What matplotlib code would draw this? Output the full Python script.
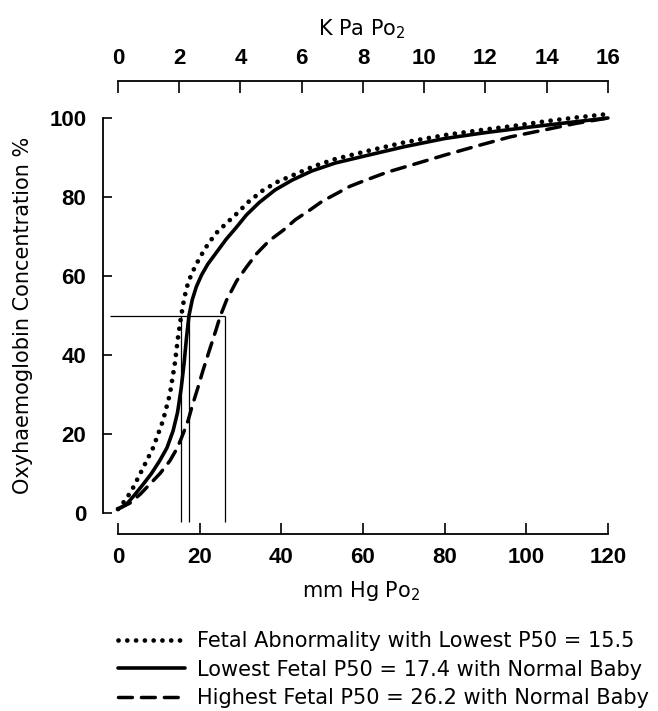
import matplotlib
matplotlib.use("Agg")
import matplotlib.pyplot as plt
from matplotlib.lines import Line2D

plt.rcParams["font.family"] = "DejaVu Sans"
plt.rcParams["mathtext.default"] = "regular"

# Oxyhaemoglobin dissociation curves (mm Hg Po2 vs % saturation)
po2_abnormal = [0, 2, 3.7, 6.2, 8.6, 11, 12.7, 13.9, 14.7, 15.5, 16.2, 16.9, 18, 20, 22,
                24, 26.5, 28.9, 32, 35.4, 39, 43.5, 48, 53.2, 60.5, 70, 80.8, 90, 97,
                105, 112, 120]
sat_abnormal = [1, 3.5, 6.4, 11.5, 16.5, 23.3, 30, 37.6, 44.4, 50, 54.2, 57.3, 60.5, 64.6,
                68, 70.8, 73.3, 75.6, 78.8, 81.6, 83.8, 85.8, 87.8, 89.6, 91.5, 93.8,
                95.8, 97.1, 98, 99.2, 100.1, 101]

po2_lowest = [0, 2.1, 4, 6.2, 8.2, 10.2, 12, 13.5, 14.6, 15.5, 16.2, 16.8, 17.4, 18.2,
              19.2, 20.5, 22, 24, 26.5, 28.9, 31.5, 34.6, 38.5, 42.7, 47.5, 53.2, 60.5,
              70, 80, 90, 100, 110, 120]
sat_lowest = [1, 2.2, 4.5, 7.3, 10, 13.2, 16.5, 20.8, 25.5, 31.7, 38, 44.5, 50, 54,
              57.3, 60.3, 63, 65.8, 69.3, 72.2, 75.5, 78.6, 81.8, 84.3, 86.6, 88.6, 90.4,
              92.7, 94.8, 96.3, 97.6, 98.8, 100]

po2_highest = [0, 2.9, 5.5, 7.8, 10.3, 12.7, 14.5, 15.9, 17.2, 18.3, 19.6, 20.8, 22.4,
               24, 25, 26.6, 29.1, 31.5, 34, 37, 40.5, 43.5, 47, 50, 53.6, 56.8, 60.5,
               66, 73.2, 80, 88.9, 96, 105, 112, 120]
sat_highest = [1, 2.5, 4.8, 7.3, 10, 13.2, 16.4, 19.9, 23.5, 27.5, 31.8, 36, 41.2,
               46.3, 49.7, 53.9, 58.8, 62.3, 65.7, 68.9, 71.6, 74.3, 76.7, 78.9, 80.9,
               82.7, 84.2, 86.3, 88.5, 90.6, 93.2, 95.2, 97.1, 98.6, 100]

p50_values = [15.5, 17.4, 26.2]
labels = ["Fetal Abnormality with Lowest P50 = 15.5",
          "Lowest Fetal P50 = 17.4 with Normal Baby",
          "Highest Fetal P50 = 26.2 with Normal Baby"]

mmhg_ticks = [0, 20, 40, 60, 80, 100, 120]
kpa_ticks = [0, 2, 4, 6, 8, 10, 12, 14, 16]
sat_ticks = [0, 20, 40, 60, 80, 100]
MMHG_PER_KPA = 7.5

fig = plt.figure(figsize=(6.58, 7.11), dpi=100)
ax = fig.add_axes([0.1565, 0.2618, 0.786, 0.5889])

dot_style = dict(color="black", lw=3.4, linestyle=(0, (0.01, 1.85)), dash_capstyle="round")
solid_style = dict(color="black", lw=2.6, linestyle="-", solid_capstyle="round")
dash_style = dict(color="black", lw=2.5, linestyle=(0, (4, 2.6)), dash_capstyle="round")

ax.plot(po2_abnormal, sat_abnormal, **dot_style)
ax.plot(po2_lowest, sat_lowest, **solid_style)
ax.plot(po2_highest, sat_highest, **dash_style)

# P50 guide lines
ax.hlines(50, -2, max(p50_values), color="black", lw=0.9)
ax.vlines(p50_values, -2.3, 50, color="black", lw=0.9)

ax.set_xlim(-3.67, 123)
ax.set_ylim(-3, 103)

for side in ["top", "right"]:
    ax.spines[side].set_visible(False)
ax.spines["bottom"].set_position(("outward", 6.6))
ax.spines["bottom"].set_bounds(0, 120)
ax.spines["left"].set_bounds(0, 100)
for side in ["bottom", "left"]:
    ax.spines[side].set_linewidth(1.3)

ax.set_xticks(mmhg_ticks)
ax.set_yticks(sat_ticks)
ax.tick_params(axis="x", direction="in", length=7.9, width=1.2, pad=9)
ax.tick_params(axis="y", direction="in", length=6.5, width=1.2, pad=12)
for t in ax.get_xticklabels() + ax.get_yticklabels():
    t.set_fontfamily("Liberation Sans")
    t.set_fontweight("bold")
    t.set_fontsize(16)

ax.set_xlabel("mm Hg Po$_2$", fontsize=15, labelpad=8)
ax.set_ylabel("Oxyhaemoglobin Concentration %", fontsize=15, labelpad=12)

# kPa scale on top
ax2 = ax.twiny()
lo, hi = ax.get_xlim()
ax2.set_xlim(lo / MMHG_PER_KPA, hi / MMHG_PER_KPA)
for side in ["bottom", "left", "right"]:
    ax2.spines[side].set_visible(False)
ax2.spines["top"].set_position(("outward", 18))
ax2.spines["top"].set_bounds(0, 16)
ax2.spines["top"].set_linewidth(1.3)
ax2.set_xticks(kpa_ticks)
ax2.tick_params(axis="x", direction="in", length=8.6, width=1.2, pad=9)
for t in ax2.get_xticklabels():
    t.set_fontfamily("Liberation Sans")
    t.set_fontweight("bold")
    t.set_fontsize(16)
ax2.set_xlabel("K Pa Po$_2$", fontsize=15, labelpad=9)

handles = [Line2D([], [], **dot_style), Line2D([], [], **solid_style),
           Line2D([], [], **dash_style)]
fig.legend(handles, labels, loc="upper left", bbox_to_anchor=(118 / 658, 1 - 631 / 711),
           frameon=False, fontsize=15, handlelength=3.2, handletextpad=0.58,
           labelspacing=0.42, borderpad=0, borderaxespad=0)

fig.savefig("out.png", dpi=100)
